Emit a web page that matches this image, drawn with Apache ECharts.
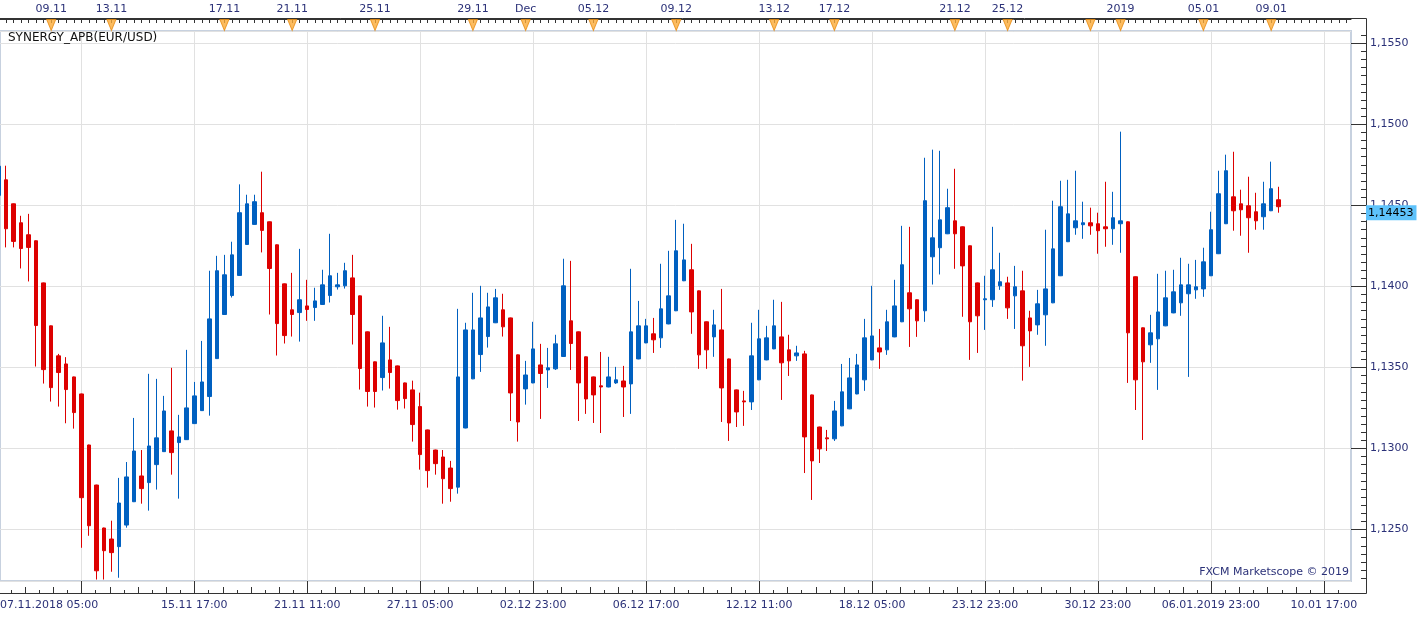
<!DOCTYPE html>
<html>
<head>
<meta charset="utf-8">
<title>SYNERGY_APB(EUR/USD)</title>
<script src="https://cdn.jsdelivr.net/npm/echarts@6/dist/echarts.min.js"></script>
<style>
    html, body { margin: 0; padding: 0; background: #ffffff; }
    #chart { width: 1423px; height: 619px; }
</style>
</head>
<body>
<div id="chart"></div>
<script>
// 第一根蜡烛只露出一半，序号 -1
const FIRST_INDEX = -1;

// 开盘价
const opens = [
    1.1456, 1.14656, 1.14508, 1.14391, 1.14317, 1.14280, 1.14020, 1.13755, 1.13570, 1.13520,
    1.13440, 1.13335, 1.13020, 1.12773, 1.12508, 1.12440, 1.12393, 1.12526, 1.12670, 1.12829,
    1.12788, 1.12899, 1.12979, 1.13107, 1.13035, 1.13053, 1.13152, 1.13232, 1.13319, 1.13553,
    1.13825, 1.13942, 1.14066, 1.14257, 1.14381, 1.14453, 1.14397, 1.14255, 1.14014, 1.13854,
    1.13837, 1.13878, 1.13868, 1.13887, 1.13942, 1.13996, 1.14002, 1.14051, 1.13940, 1.13718,
    1.13533, 1.13436, 1.13545, 1.13508, 1.13403, 1.13360, 1.13257, 1.13113, 1.12989, 1.12946,
    1.12878, 1.12760, 1.13125, 1.13428, 1.13578, 1.13689, 1.13774, 1.13854, 1.13804, 1.13576,
    1.13366, 1.13403, 1.13514, 1.13483, 1.13490, 1.13566, 1.13786, 1.13718, 1.13564, 1.13440,
    1.13385, 1.13378, 1.13403, 1.13415, 1.13397, 1.13551, 1.13650, 1.13706, 1.13681, 1.13767,
    1.13848, 1.14033, 1.14101, 1.13971, 1.13780, 1.13687, 1.13730, 1.13551, 1.13360, 1.13292,
    1.13286, 1.13422, 1.13545, 1.13613, 1.13687, 1.13607, 1.13570, 1.13582, 1.13329, 1.13131,
    1.13064, 1.13058, 1.13138, 1.13243, 1.13335, 1.13422, 1.13545, 1.13619, 1.13607, 1.13687,
    1.13780, 1.13959, 1.13916, 1.13848, 1.14181, 1.14237, 1.14323, 1.14403, 1.14366, 1.14249,
    1.14020, 1.13916, 1.13916, 1.14002, 1.14020, 1.13940, 1.13971, 1.13804, 1.13761, 1.13823,
    1.13897, 1.14064, 1.14274, 1.14360, 1.14379, 1.14391, 1.14385, 1.14366, 1.14354, 1.14385,
    1.14397, 1.14058, 1.13743, 1.13638, 1.13675, 1.13755, 1.13835, 1.13897, 1.13953, 1.13977,
    1.13983, 1.14064, 1.14200, 1.14385, 1.14551, 1.14508, 1.14496, 1.14459, 1.14428, 1.14465,
    1.14533
];

// 收盘价
const closes = [
    1.1474, 1.14354, 1.14276, 1.14232, 1.14239, 1.13757, 1.13485, 1.13374, 1.13467, 1.13362,
    1.13220, 1.12695, 1.12522, 1.12244, 1.12368, 1.12356, 1.12662, 1.12823, 1.12983, 1.12751,
    1.13014, 1.13064, 1.13230, 1.12973, 1.13070, 1.13249, 1.13323, 1.13409, 1.13798, 1.14095,
    1.14070, 1.14193, 1.14453, 1.14508, 1.14521, 1.14344, 1.14109, 1.13769, 1.13695, 1.13825,
    1.13916, 1.13856, 1.13909, 1.14008, 1.14064, 1.14008, 1.14095, 1.13825, 1.13492, 1.13350,
    1.13350, 1.13650, 1.13467, 1.13294, 1.13306, 1.13146, 1.12961, 1.12862, 1.12905, 1.12812,
    1.12751, 1.13440, 1.13730, 1.13730, 1.13804, 1.13872, 1.13928, 1.13749, 1.13341, 1.13162,
    1.13452, 1.13613, 1.13461, 1.13496, 1.13644, 1.14002, 1.13646, 1.13403, 1.13304, 1.13329,
    1.13378, 1.13440, 1.13422, 1.13378, 1.13718, 1.13755, 1.13755, 1.13669, 1.13860, 1.13940,
    1.14218, 1.14162, 1.13841, 1.13576, 1.13607, 1.13761, 1.13372, 1.13156, 1.13224, 1.13286,
    1.13570, 1.13675, 1.13681, 1.13755, 1.13527, 1.13539, 1.13588, 1.13070, 1.12922, 1.12996,
    1.13058, 1.13230, 1.13348, 1.13434, 1.13514, 1.13681, 1.13693, 1.13594, 1.13780, 1.13878,
    1.14132, 1.13860, 1.13786, 1.14527, 1.14298, 1.14409, 1.14484, 1.14323, 1.14125, 1.13780,
    1.13817, 1.13922, 1.14101, 1.14027, 1.13866, 1.13996, 1.13632, 1.13724, 1.13891, 1.13983,
    1.14230, 1.14490, 1.14446, 1.14403, 1.14391, 1.14372, 1.14342, 1.14354, 1.14422, 1.14403,
    1.13712, 1.13422, 1.13533, 1.13712, 1.13841, 1.13928, 1.13965, 1.14008, 1.14008, 1.13996,
    1.14150, 1.14348, 1.14570, 1.14712, 1.14465, 1.14471, 1.14422, 1.14403, 1.14508, 1.14601,
    1.14490
];

// 最低价
const lows = [
    1.1452, 1.14239, 1.14239, 1.14109, 1.14029, 1.13504, 1.13399, 1.13288, 1.13257, 1.13154,
    1.13121, 1.12386, 1.12460, 1.12190, 1.12190, 1.12238, 1.12201, 1.12510, 1.12668, 1.12658,
    1.12615, 1.12745, 1.12977, 1.12837, 1.12689, 1.13051, 1.13150, 1.13230, 1.13201, 1.13551,
    1.13823, 1.13930, 1.14064, 1.14255, 1.14379, 1.14208, 1.13825, 1.13572, 1.13646, 1.13689,
    1.13658, 1.13786, 1.13786, 1.13885, 1.13899, 1.13979, 1.13985, 1.13640, 1.13362, 1.13257,
    1.13251, 1.13356, 1.13368, 1.13238, 1.13245, 1.13041, 1.12868, 1.12757, 1.12837, 1.12658,
    1.12670, 1.12720, 1.13123, 1.13426, 1.13471, 1.13621, 1.13772, 1.13689, 1.13168, 1.13041,
    1.13269, 1.13401, 1.13181, 1.13372, 1.13483, 1.13564, 1.13483, 1.13168, 1.13212, 1.13156,
    1.13094, 1.13376, 1.13397, 1.13193, 1.13212, 1.13549, 1.13648, 1.13588, 1.13619, 1.13765,
    1.13846, 1.14031, 1.13706, 1.13490, 1.13490, 1.13564, 1.13162, 1.13045, 1.13131, 1.13138,
    1.13236, 1.13420, 1.13543, 1.13611, 1.13298, 1.13446, 1.13539, 1.12847, 1.12681, 1.12909,
    1.12983, 1.13045, 1.13136, 1.13241, 1.13333, 1.13354, 1.13543, 1.13490, 1.13576, 1.13685,
    1.13778, 1.13625, 1.13687, 1.13780, 1.14010, 1.14072, 1.14321, 1.14107, 1.13811, 1.13545,
    1.13588, 1.13730, 1.13872, 1.13977, 1.13798, 1.13736, 1.13417, 1.13502, 1.13700, 1.13632,
    1.13895, 1.14062, 1.14272, 1.14317, 1.14292, 1.14317, 1.14200, 1.14243, 1.14255, 1.14206,
    1.13403, 1.13236, 1.13051, 1.13527, 1.13360, 1.13753, 1.13833, 1.13817, 1.13440, 1.13922,
    1.13934, 1.14062, 1.14198, 1.14383, 1.14342, 1.14311, 1.14206, 1.14348, 1.14348, 1.14463,
    1.14453
];

// 最高价
const highs = [
    1.1476, 1.14743, 1.14510, 1.14434, 1.14446, 1.14282, 1.14022, 1.13757, 1.13582, 1.13562,
    1.13442, 1.13337, 1.13022, 1.12775, 1.12510, 1.12553, 1.12817, 1.12915, 1.13187, 1.12989,
    1.13459, 1.13428, 1.13323, 1.13496, 1.13206, 1.13607, 1.13409, 1.13662, 1.14095, 1.14187,
    1.14193, 1.14274, 1.14628, 1.14564, 1.14564, 1.14706, 1.14399, 1.14257, 1.14016, 1.14082,
    1.14230, 1.14039, 1.13990, 1.14101, 1.14323, 1.14082, 1.14144, 1.14193, 1.13942, 1.13720,
    1.13535, 1.13817, 1.13749, 1.13510, 1.13405, 1.13417, 1.13343, 1.13115, 1.12991, 1.12989,
    1.12922, 1.13860, 1.13774, 1.13959, 1.14002, 1.13959, 1.13983, 1.13953, 1.13806, 1.13578,
    1.13539, 1.13780, 1.13644, 1.13619, 1.13700, 1.14169, 1.14156, 1.13720, 1.13566, 1.13442,
    1.13594, 1.13564, 1.13502, 1.13508, 1.14107, 1.13909, 1.13798, 1.13804, 1.14138, 1.14218,
    1.14409, 1.14385, 1.14261, 1.13973, 1.13782, 1.13854, 1.13983, 1.13553, 1.13362, 1.13354,
    1.13774, 1.13854, 1.13755, 1.13916, 1.13903, 1.13700, 1.13632, 1.13601, 1.13331, 1.13133,
    1.13113, 1.13292, 1.13520, 1.13557, 1.13582, 1.13798, 1.14002, 1.13736, 1.13854, 1.14039,
    1.14372, 1.14366, 1.13918, 1.14792, 1.14842, 1.14835, 1.14601, 1.14724, 1.14368, 1.14251,
    1.14022, 1.14064, 1.14366, 1.14206, 1.14058, 1.14125, 1.14095, 1.13848, 1.13977, 1.14348,
    1.14527, 1.14650, 1.14656, 1.14712, 1.14521, 1.14484, 1.14453, 1.14644, 1.14582, 1.14953,
    1.14399, 1.14060, 1.13745, 1.13823, 1.14076, 1.14095, 1.14101, 1.14175, 1.14138, 1.14162,
    1.14237, 1.14459, 1.14712, 1.14811, 1.14829, 1.14595, 1.14675, 1.14576, 1.14644, 1.14768,
    1.14613
];

// 最新价
const lastPrice = 1.14453;

// 底部时间刻度：第一个贴在左边，其余在第 25、40 ... 175 根蜡烛
const timeLabels = ['07.11.2018 05:00', '15.11 17:00', '21.11 11:00', '27.11 05:00', '02.12 23:00',
    '06.12 17:00', '12.12 11:00', '18.12 05:00', '23.12 23:00', '30.12 23:00', '06.01.2019 23:00', '10.01 17:00'];
const timeLabelIdx = [null, 25, 40, 55, 70, 85, 100, 115, 130, 145, 160, 175];

// 顶部日期和事件标记
const topLabels = ['09.11', '13.11', '17.11', '21.11', '25.11', '29.11', 'Dec', '05.12', '09.12',
    '13.12', '17.12', '21.12', '25.12', '2019', '05.01', '09.01'];
const topLabelIdx = [6, 14, 29, 38, 49, 62, 69, 78, 89, 102, 110, 126, 133, 148, 159, 168];
const eventIdx = [6, 14, 29, 38, 49, 62, 69, 78, 89, 102, 110, 126, 133, 144, 148, 159, 168];

// 坐标范围
const X_MIN = -0.797;
const X_MAX = 178.6;
const Y_MIN = 1.12181;
const Y_MAX = 1.15574;

const FONT = 'DejaVu Sans';
const LABEL_COLOR = '#2b3178';
const TICK_COLOR = '#333333';
const UP_COLOR = '#0060c0';
const DOWN_COLOR = '#dd0000';

// 主图区域
const PLOT = { left: 0, right: 72, top: 31, bottom: 38 };
// 右侧价格标签区域（右边缘就是价格轴线）
const PRICE_BAND = { left: 0, right: 57, top: 31, bottom: 38 };
// 价格轴、时间轴离主图的距离
const PRICE_AXIS_GAP = 15;
const TIME_AXIS_GAP = 12;

function fmtPrice(v, digits) {
    return v.toFixed(digits).replace('.', ',');
}

function sameValue(a, b) {
    return Math.abs(a - b) < 1e-6;
}

// 组装蜡烛数据 [序号, 开, 收, 低, 高]
let candleData = [];
for (let i = 0; i < opens.length; i++) {
    candleData.push([FIRST_INDEX + i, opens[i], closes[i], lows[i], highs[i]]);
}

// 刻度位置
let gridIdx = [];
for (let v = 10; v <= X_MAX; v += 15) {
    gridIdx.push(v);
}
let candleTickIdx = [];
for (let v = 0; v <= X_MAX; v++) {
    candleTickIdx.push(v);
}
let labelValues = timeLabelIdx.map(function (v) {
    return v === null ? X_MIN : v;
});
let priceMajor = [];
for (let k = 0; k <= 6; k++) {
    priceMajor.push(Math.round((1.125 + k * 0.005) * 10000) / 10000);
}

// 时间轴中、小刻度 [序号, 长度]
let timeTicks = [];
for (let k = -5; 10 + k * 1.875 <= X_MAX; k++) {
    let v = 10 + k * 1.875;
    if (v < X_MIN || k % 8 === 0) {
        continue;
    }
    timeTicks.push([v, Math.abs(k) % 2 === 0 ? 6 : 3]);
}
// 价格轴主、小刻度 [价格, 长度]
let priceTicks = [];
for (let k = 0; k <= 70; k++) {
    let v = Math.round((1.122 + k * 0.0005) * 100000) / 100000;
    if (v > Y_MIN && v < Y_MAX) {
        priceTicks.push([v, k % 10 === 6 ? 15 : 5]);
    }
}

const labelStyle = {
    fontFamily: FONT,
    fontSize: 11,
    color: LABEL_COLOR
};

// 轴线与外框重合
const frameLine = {
    show: true,
    onZero: false,
    lineStyle: {
        color: TICK_COLOR,
        width: 1
    }
};

function ticks(length, values) {
    return {
        show: true,
        inside: true,
        length: length,
        customValues: values,
        lineStyle: {
            color: TICK_COLOR,
            width: 1
        }
    };
}

function hiddenAxis(gridIndex, min, max) {
    return {
        type: 'value',
        gridIndex: gridIndex,
        min: min,
        max: max,
        axisLine: {
            show: false,
            onZero: false
        },
        axisTick: {
            show: false
        },
        axisLabel: {
            show: false
        },
        splitLine: {
            show: false
        }
    };
}

function band(rect) {
    return Object.assign({ outerBoundsMode: 'none' }, rect);
}

let chart = echarts.init(document.getElementById('chart'));

let option = {
    animation: false,
    backgroundColor: '#ffffff',
    textStyle: {
        fontFamily: FONT
    },
    title: [{
            text: 'SYNERGY_APB(EUR/USD)',
            left: 8,
            top: 32,
            padding: 0,
            textStyle: {
                fontFamily: FONT,
                fontSize: 12,
                fontWeight: 'normal',
                color: '#111111'
            }
        },
        {
            text: 'FXCM Marketscope © 2019',
            right: 74,
            top: 567,
            padding: 0,
            textStyle: {
                fontFamily: FONT,
                fontSize: 11,
                fontWeight: 'normal',
                color: LABEL_COLOR
            }
        }
    ],
    grid: [
        // 0 主图
        Object.assign({
            show: true,
            backgroundColor: '#ffffff',
            borderColor: '#c7d1df',
            borderWidth: 2,
            outerBoundsMode: 'none'
        }, PLOT),
        // 1 顶部事件条
        band({ left: 0, right: 72, top: 19, height: 12 }),
        // 2 外框
        {
            left: -2,
            right: 56.5,
            top: 18.5,
            bottom: 25.5,
            show: true,
            backgroundColor: 'rgba(0,0,0,0)',
            borderColor: TICK_COLOR,
            borderWidth: 1,
            outerBoundsMode: 'none'
        },
        // 3 价格标签，4 最新价
        band(PRICE_BAND),
        band(PRICE_BAND)
    ],
    xAxis: [{
            // 底部时间轴，主刻度和网格线
            type: 'value',
            gridIndex: 0,
            position: 'bottom',
            offset: TIME_AXIS_GAP,
            min: X_MIN,
            max: X_MAX,
            axisLine: frameLine,
            axisTick: ticks(12, gridIdx),
            splitLine: {
                show: true,
                lineStyle: {
                    color: '#e1e1e1',
                    width: 1
                }
            },
            axisLabel: Object.assign({
                customValues: labelValues,
                margin: 7,
                alignMinLabel: 'left',
                formatter: function (value) {
                    for (let k = 0; k < labelValues.length; k++) {
                        if (sameValue(labelValues[k], value)) {
                            return timeLabels[k];
                        }
                    }
                    return '';
                }
            }, labelStyle)
        },
        {
            // 顶部日期轴
            type: 'value',
            gridIndex: 0,
            position: 'top',
            offset: 12,
            min: X_MIN,
            max: X_MAX,
            axisLine: frameLine,
            axisTick: ticks(4, candleTickIdx),
            splitLine: {
                show: false
            },
            axisLabel: Object.assign({
                customValues: topLabelIdx,
                margin: 4,
                formatter: function (value) {
                    for (let k = 0; k < topLabelIdx.length; k++) {
                        if (sameValue(topLabelIdx[k], value)) {
                            return topLabels[k];
                        }
                    }
                    return '';
                }
            }, labelStyle)
        },
        hiddenAxis(1, X_MIN, X_MAX),
        hiddenAxis(2, 0, 1),
        hiddenAxis(3, 0, 1),
        hiddenAxis(4, 0, 1)
    ],
    yAxis: [{
            // 主图水平网格线
            type: 'value',
            gridIndex: 0,
            position: 'right',
            min: Y_MIN,
            max: Y_MAX,
            axisLine: {
                show: false,
                onZero: false
            },
            axisTick: {
                show: false
            },
            axisLabel: {
                show: false
            },
            splitLine: {
                show: true,
                lineStyle: {
                    color: '#e1e1e1',
                    width: 1
                }
            }
        },
        hiddenAxis(1, 0, 1),
        hiddenAxis(2, 0, 1),
        {
            // 右侧价格标签
            type: 'value',
            gridIndex: 3,
            position: 'right',
            min: Y_MIN,
            max: Y_MAX,
            axisLine: frameLine,
            axisTick: {
                show: false
            },
            splitLine: {
                show: false
            },
            axisLabel: Object.assign({
                customValues: priceMajor,
                margin: 4,
                formatter: function (value) {
                    return fmtPrice(value, 4);
                }
            }, labelStyle)
        },
        {
            // 最新价标签
            type: 'value',
            gridIndex: 4,
            position: 'right',
            min: Y_MIN,
            max: Y_MAX,
            z: 10,
            axisLine: {
                show: false,
                onZero: false
            },
            axisTick: {
                show: false
            },
            splitLine: {
                show: false
            },
            axisLabel: {
                customValues: [lastPrice],
                margin: 0,
                fontFamily: FONT,
                fontSize: 11,
                color: '#000000',
                backgroundColor: '#5ec2fb',
                padding: [2, 3, 2, 2],
                formatter: function (value) {
                    return fmtPrice(value, 5);
                }
            }
        }
    ],
    series: [{
            type: 'candlestick',
            xAxisIndex: 0,
            yAxisIndex: 0,
            barWidth: 4,
            itemStyle: {
                color: UP_COLOR,
                color0: DOWN_COLOR,
                borderColor: UP_COLOR,
                borderColor0: DOWN_COLOR,
                borderWidth: 1
            },
            data: candleData
        },
        {
            // 事件三角
            type: 'scatter',
            xAxisIndex: 2,
            yAxisIndex: 1,
            symbol: 'triangle',
            symbolRotate: 180,
            symbolSize: [9, 11],
            clip: false,
            itemStyle: {
                color: '#fbab38',
                borderColor: '#e88a0c',
                borderWidth: 1
            },
            data: eventIdx.map(function (v) {
                return [v, 0.5];
            })
        }
    ]
};

chart.setOption(option);

// 价格轴和时间轴的细刻度：位置用图表自己的比例尺换算
function addFineTicks() {
    let plotRight = chart.convertToPixel({ xAxisIndex: 0 }, X_MAX);
    let plotBottom = chart.convertToPixel({ yAxisIndex: 0 }, Y_MIN);
    let axisX = plotRight + PRICE_AXIS_GAP;
    let axisY = plotBottom + TIME_AXIS_GAP;
    let elements = [];

    for (let i = 0; i < priceTicks.length; i++) {
        let y = Math.round(chart.convertToPixel({ yAxisIndex: 0 }, priceTicks[i][0])) + 0.5;
        elements.push({
            type: 'line',
            silent: true,
            z: 100,
            shape: { x1: axisX - priceTicks[i][1], y1: y, x2: axisX, y2: y },
            style: { stroke: TICK_COLOR, lineWidth: 1 }
        });
    }
    for (let i = 0; i < timeTicks.length; i++) {
        let x = Math.round(chart.convertToPixel({ xAxisIndex: 0 }, timeTicks[i][0])) + 0.5;
        elements.push({
            type: 'line',
            silent: true,
            z: 100,
            shape: { x1: x, y1: axisY - timeTicks[i][1], x2: x, y2: axisY },
            style: { stroke: TICK_COLOR, lineWidth: 1 }
        });
    }

    chart.setOption({
        graphic: {
            elements: elements
        }
    });
}

addFineTicks();
</script>
</body>
</html>
